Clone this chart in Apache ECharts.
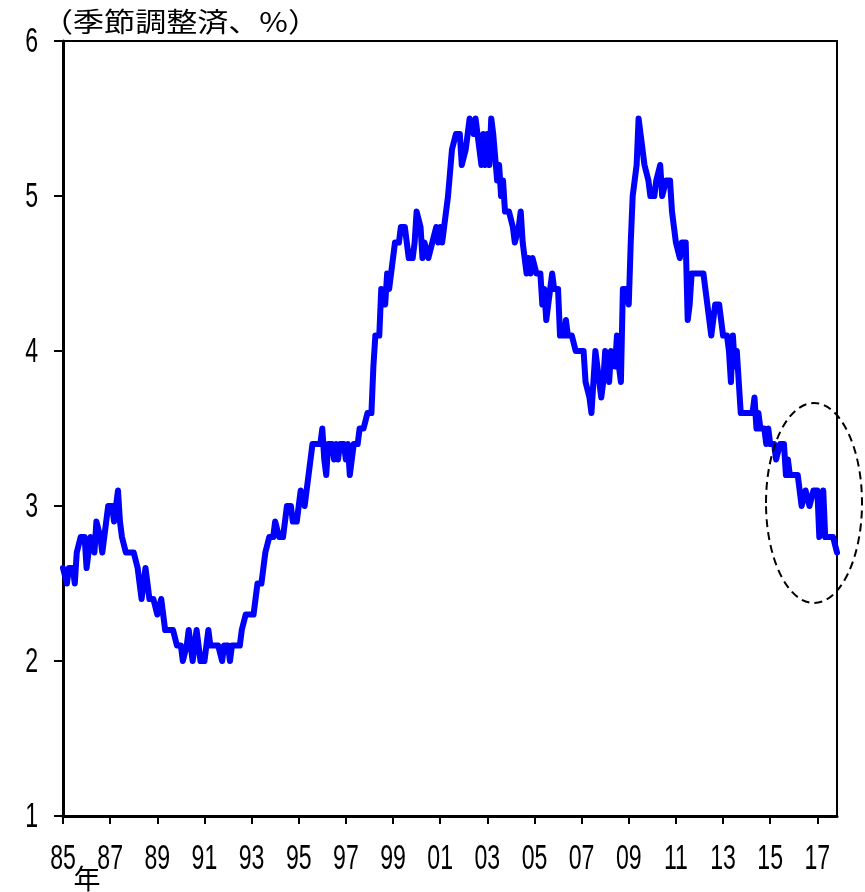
<!DOCTYPE html>
<html>
<head>
<meta charset="utf-8">
<script src="https://cdn.jsdelivr.net/npm/echarts@6/dist/echarts.min.js"></script>
<style>
html,body{margin:0;padding:0;background:#fff;}
#chart{width:865px;height:892px;}
</style>
</head>
<body>
<div id="chart"></div>
<script>
// Monthly values (seasonally adjusted, %), Jan 1985 - Nov 2017
const r1985 = [2.6,2.6,2.5,2.6,2.6,2.6,2.5,2.7,2.7,2.8,2.8,2.8];
const r1986 = [2.6,2.6,2.8,2.8,2.7,2.9,2.9,2.8,2.7,2.7,2.9,3.0];
const r1987 = [3.0,3.0,2.9,3.0,3.1,2.9,2.8,2.8,2.7,2.7,2.7,2.7];
const r1988 = [2.7,2.7,2.6,2.5,2.4,2.5,2.6,2.5,2.4,2.4,2.4,2.4];
const r1989 = [2.3,2.3,2.4,2.4,2.2,2.2,2.2,2.2,2.2,2.2,2.1,2.1];
const r1990 = [2.1,2.0,2.0,2.1,2.2,2.1,2.0,2.0,2.2,2.1,2.0,2.0];
const r1991 = [2.0,2.1,2.2,2.1,2.1,2.1,2.1,2.1,2.1,2.0,2.1,2.1];
const r1992 = [2.1,2.0,2.1,2.1,2.1,2.1,2.1,2.2,2.2,2.3,2.3,2.3];
const r1993 = [2.3,2.3,2.3,2.5,2.5,2.5,2.5,2.7,2.7,2.8,2.8,2.8];
const r1994 = [2.9,2.9,2.8,2.8,2.8,2.8,3.0,3.0,3.0,2.9,2.9,2.9];
const r1995 = [3.0,3.1,3.1,3.0,3.0,3.2,3.2,3.4,3.4,3.4,3.4,3.4];
const r1996 = [3.5,3.3,3.2,3.4,3.4,3.4,3.3,3.4,3.3,3.4,3.4,3.4];
const r1997 = [3.3,3.4,3.2,3.3,3.4,3.4,3.4,3.5,3.5,3.5,3.5,3.6];
const r1998 = [3.6,3.6,3.9,4.1,4.1,4.1,4.4,4.4,4.3,4.5,4.4,4.5];
const r1999 = [4.6,4.7,4.7,4.7,4.8,4.8,4.8,4.7,4.6,4.6,4.6,4.7];
const r2000 = [4.9,4.9,4.8,4.6,4.7,4.7,4.6,4.6,4.7,4.7,4.8,4.7];
const r2001 = [4.8,4.7,4.8,4.8,5.0,5.0,5.3,5.3,5.4,5.4,5.4,5.2];
const r2002 = [5.2,5.3,5.3,5.5,5.5,5.4,5.5,5.4,5.4,5.2,5.4,5.2];
const r2003 = [5.4,5.2,5.5,5.4,5.4,5.1,5.2,5.0,5.1,4.9,4.9,4.9];
const r2004 = [4.9,4.8,4.7,4.7,4.8,4.9,4.7,4.6,4.5,4.6,4.5,4.6];
const r2005 = [4.6,4.5,4.5,4.5,4.3,4.4,4.2,4.2,4.4,4.5,4.4,4.4];
const r2006 = [4.4,4.1,4.1,4.1,4.2,4.1,4.1,4.1,4.1,4.0,4.0,4.0];
const r2007 = [4.0,4.0,3.8,3.8,3.7,3.6,3.8,4.0,4.0,3.8,3.7,3.8];
const r2008 = [4.0,3.9,3.8,4.0,4.0,3.9,4.1,3.9,3.8,4.4,4.4,4.4];
const r2009 = [4.3,4.7,5.0,5.1,5.2,5.5,5.4,5.4,5.2,5.2,5.1,5.0];
const r2010 = [5.0,5.0,5.1,5.1,5.2,5.0,5.0,5.1,5.1,5.1,4.9,4.8];
const r2011 = [4.7,4.7,4.6,4.7,4.7,4.7,4.2,4.3,4.5,4.5,4.5,4.5];
const r2012 = [4.5,4.5,4.5,4.4,4.3,4.2,4.1,4.1,4.3,4.3,4.3,4.3];
const r2013 = [4.1,4.1,4.1,4.0,3.8,4.1,3.9,4.0,3.8,3.6,3.6,3.6];
const r2014 = [3.6,3.6,3.6,3.6,3.7,3.5,3.6,3.5,3.5,3.5,3.4,3.5];
const r2015 = [3.4,3.4,3.4,3.3,3.3,3.4,3.4,3.4,3.2,3.3,3.2,3.2];
const r2016 = [3.2,3.2,3.2,3.2,3.0,3.0,3.1,3.1,3.0,3.0,3.1,3.1];
const r2017 = [3.1,2.8,2.8,3.1,2.8,2.8,2.8,2.8,2.8,2.8,2.7];

const yearBlocks = [r1985,r1986,r1987,r1988,r1989,r1990,r1991,r1992,r1993,r1994,r1995,
  r1996,r1997,r1998,r1999,r2000,r2001,r2002,r2003,r2004,r2005,r2006,r2007,r2008,
  r2009,r2010,r2011,r2012,r2013,r2014,r2015,r2016,r2017];
const firstYear = 1985;
const tickLabels = ['85','87','89','91','93','95','97','99','01','03','05','07','09','11','13','15','17'];
const yTicks = [1,2,3,4,5,6];
const titleText = '（季節調整済、%）';
const yearUnit = '年';

const categories = [];
const values = [];
yearBlocks.forEach((arr, yi) => {
  arr.forEach((v, mi) => {
    categories.push((firstYear + yi) + '-' + String(mi + 1).padStart(2, '0'));
    values.push(v);
  });
});

const NUM_FONT = "35px 'Liberation Sans', Arial, sans-serif";
const CJK_FONT = "'Noto Sans CJK JP', sans-serif";
const NARROW = 0.66;

const chart = echarts.init(document.getElementById('chart'), null, {renderer: 'canvas'});
const every24 = (i) => i % 24 === 0;
chart.setOption({
  animation: false,
  backgroundColor: '#ffffff',
  grid: {left: 63, right: 28, top: 41, bottom: 76, show: true, borderColor: '#000', borderWidth: 2, backgroundColor: 'transparent'},
  xAxis: {
    type: 'category',
    data: categories,
    boundaryGap: false,
    axisLine: {lineStyle: {color: '#000', width: 3}},
    axisTick: {interval: (i) => every24(i), length: 8, lineStyle: {color: '#000', width: 2}},
    axisLabel: {show: false},
    splitLine: {show: false}
  },
  yAxis: {
    type: 'value',
    min: yTicks[0], max: yTicks[yTicks.length - 1], interval: 1,
    axisLine: {show: true, lineStyle: {color: '#000', width: 3}},
    axisTick: {show: true, length: 9, lineStyle: {color: '#000', width: 2}},
    axisLabel: {show: false},
    splitLine: {show: false}
  },
  series: [{
    type: 'line',
    data: values,
    showSymbol: false,
    symbol: 'none',
    lineStyle: {color: '#0000ff', width: 6, join: 'round', cap: 'round'},
    z: 3
  }]
});

// Tick labels as narrow text placed through the axis scales
const labelEls = [];
tickLabels.forEach((t, k) => {
  const px = chart.convertToPixel({xAxisIndex: 0}, categories[k * 24]);
  labelEls.push({
    type: 'text', x: px, y: 859, scaleX: NARROW, silent: true,
    style: {text: t, font: NUM_FONT, fill: '#000', align: 'center', verticalAlign: 'middle',
            textAlign: 'center', textVerticalAlign: 'middle'}
  });
});
yTicks.forEach((v) => {
  const py = chart.convertToPixel({yAxisIndex: 0}, v);
  labelEls.push({
    type: 'text', x: 38, y: py + 1, scaleX: NARROW, silent: true,
    style: {text: String(v), font: NUM_FONT, fill: '#000', align: 'right', verticalAlign: 'middle',
            textAlign: 'right', textVerticalAlign: 'middle'}
  });
});

chart.setOption({
  graphic: labelEls.concat([
    {
      type: 'text', x: 42, y: 22, scaleX: 1.15, silent: true,
      style: {text: titleText, font: "27px " + CJK_FONT, fill: '#000', align: 'left', verticalAlign: 'middle',
              textAlign: 'left', textVerticalAlign: 'middle'}
    },
    {
      type: 'text', x: 87, y: 879, silent: true,
      style: {text: yearUnit, font: "27px " + CJK_FONT, fill: '#000', align: 'center', verticalAlign: 'middle',
              textAlign: 'center', textVerticalAlign: 'middle'}
    },
    {
      type: 'ellipse', silent: true,
      shape: {cx: 814, cy: 503, rx: 48, ry: 100},
      style: {fill: 'none', stroke: '#000', lineWidth: 2, lineDash: [8, 5]},
      z: 10
    }
  ])
});
</script>
</body>
</html>
